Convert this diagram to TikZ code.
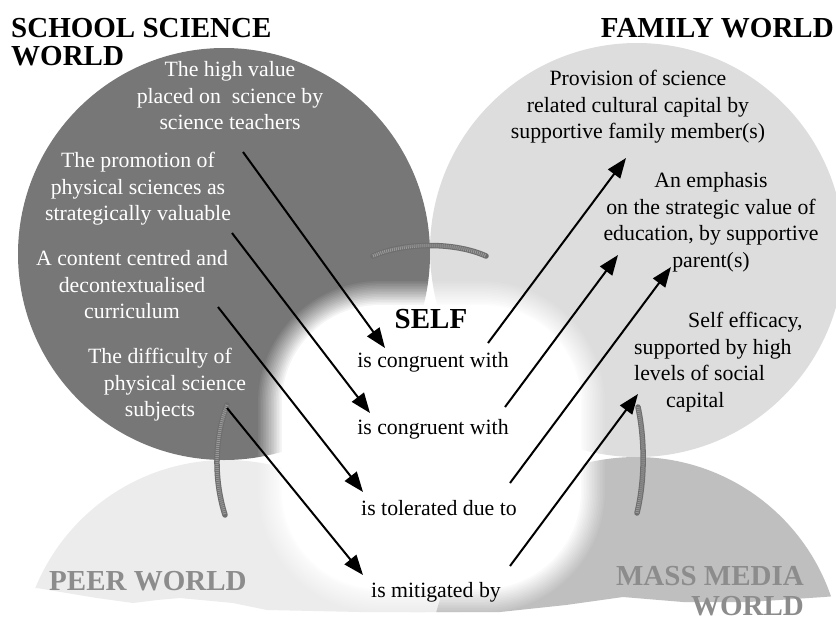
\documentclass[tikz,border=0pt]{standalone}
\usepackage{fontspec}
\setmainfont{Liberation Serif}
\usetikzlibrary{arrows.meta,calc}
\definecolor{schoolgray}{HTML}{777777}
\definecolor{familygray}{HTML}{DDDDDD}
\definecolor{peergray}{HTML}{ECECEC}
\definecolor{mediagray}{HTML}{BFBFBF}
\definecolor{worldtext}{HTML}{8C8C8C}
\definecolor{seamgray}{HTML}{6E6E6E}
\begin{document}
\begin{tikzpicture}[x=1pt,y=-1pt,
  body/.style={font=\fontsize{21.8}{26.5}\selectfont, inner sep=0pt, align=center},
  lefttext/.style={body, text=white},
  righttext/.style={body, text=black},
  midtext/.style={body, anchor=base},
  heading/.style={inner sep=0pt, font=\fontsize{29}{28}\selectfont\bfseries},
  worldlabel/.style={inner sep=0pt, text=worldtext, font=\fontsize{29}{30}\selectfont\bfseries},
  link/.style={line width=2pt, -{Triangle[length=20pt,width=15pt]}},
  seam/.style={line width=5.5pt, draw=seamgray, line cap=round},
  seamcore/.style={line width=3.4pt, draw=black!40, dash pattern=on 1pt off 1pt},
]
\useasboundingbox (0,0) rectangle (836,622);
\fill[white] (0,0) rectangle (836,622);

% peer world and mass media world, with torn lower edge
\begin{scope}
  \clip (0,0) -- (836,0) -- (836,596) -- (824,597) -- (749,602) -- (683,602)
    -- (623,597) -- (566,605) -- (500,612) -- (433,612) -- (360,612)
    -- (267,610) -- (233,603) -- (180,598) -- (157,600) -- (133,603)
    -- (97,598) -- (37,588) -- (0,588) -- cycle;
  \fill[peergray] (226,666) circle[radius=206];
  \fill[peergray] (410,580) rectangle (460,640);
  \fill[mediagray] (636,663) circle[radius=206];
\end{scope}

% school science world and family world
\fill[schoolgray] (224,254) circle[radius=206];
\fill[familygray] (637,250) circle[radius=207];

% the self: white region with a soft edge
\foreach \i in {1,...,16}{
  \pgfmathsetmacro\d{12-(\i-1)*1.6}
  \pgfmathsetmacro\op{1/(17-\i)}
  \pgfmathsetmacro\xa{270-\d}
  \pgfmathsetmacro\ya{293-\d}
  \pgfmathsetmacro\xb{593+\d}
  \pgfmathsetmacro\yb{601+\d}
  \pgfmathsetmacro\rr{110+\d}
  \fill[white, fill opacity=\op, rounded corners=\rr pt] (\xa,\ya) rectangle (\xb,\yb);
}

% seams between the worlds
\draw[seam] (373,256) .. controls (405,242) and (455,242) .. (486,256);
\draw[seamcore] (373,256) .. controls (405,242) and (455,242) .. (486,256);
\draw[seam] (227,405) .. controls (214,440) and (214,480) .. (225,515);
\draw[seamcore] (227,405) .. controls (214,440) and (214,480) .. (225,515);
\draw[seam] (637,513) .. controls (645,480) and (645,440) .. (638,407);
\draw[seamcore] (637,513) .. controls (645,480) and (645,440) .. (638,407);

% headings
\node[heading, anchor=north west, align=left] (schooltitle) at (11,18) {SCHOOL SCIENCE\\WORLD};
\node[heading, anchor=base east] (familytitle) at (834,37) {FAMILY WORLD};
\node[worldlabel, anchor=base west] (peer) at (49,590) {PEER WORLD};
\node[worldlabel, anchor=north east, align=right] (media) at (804,565.8) {MASS MEDIA\\WORLD};

% school science factors
\node[lefttext, anchor=north] (t1) at (230,61.2) {The high value\\placed on\ \ science by\\science teachers};
\node[lefttext, anchor=north] (t2) at (138,152.2) {The promotion of\\physical sciences as\\strategically valuable};
\node[lefttext, anchor=north] (t3) at (132,250.2) {A content centred and\\decontextualised\\curriculum};
\node[lefttext, anchor=north] (t4) at (160,348.2) {The difficulty of\\\hspace*{30pt}physical science\\subjects};

% family and social factors
\node[righttext, anchor=north] (r1) at (638,70.2) {Provision of science\\related cultural capital by\\supportive family member(s)};
\node[righttext, anchor=north] (r2) at (711,172.2) {An emphasis\\on the strategic value of\\education, by supportive\\parent(s)};
\node[righttext, anchor=north west, align=left] (r3) at (634,312.2) {\hspace*{54pt}Self efficacy,\\supported by high\\levels of social\\\hspace*{32pt}capital};

% the self
\node[midtext, font=\fontsize{29}{30}\selectfont\bfseries] (self) at (431,328) {SELF};
\node[midtext] (c1) at (433,367) {is congruent with};
\node[midtext] (c2) at (433,434) {is congruent with};
\node[midtext] (c3) at (439,515) {is tolerated due to};
\node[midtext] (c4) at (436,597) {is mitigated by};

% links into the self
\draw[link] ($(t1.north)+(13,90.8)$) -- ($(c1.base)+(-48,-19)$);
\draw[link] ($(t2.north)+(94,80.8)$) -- ($(c2.base)+(-63,-21)$);
\draw[link] ($(t3.north)+(86,56.8)$) -- ($(c3.base)+(-76,-23)$);
\draw[link] ($(t4.north)+(67,59.8)$) -- ($(c4.base)+(-73,-22)$);

% links out of the self
\draw[link] ($(c1.base)+(55,-24)$) -- ($(r1.north)+(-12,87.8)$);
\draw[link] ($(c2.base)+(72,-27)$) -- ($(r2.north)+(-93,82.8)$);
\draw[link] ($(c3.base)+(71,-32)$) -- ($(r2.north)+(-40,94.8)$);
\draw[link] ($(c4.base)+(74,-31)$) -- ($(r3.north west)+(4,81.8)$);
\end{tikzpicture}
\end{document}
